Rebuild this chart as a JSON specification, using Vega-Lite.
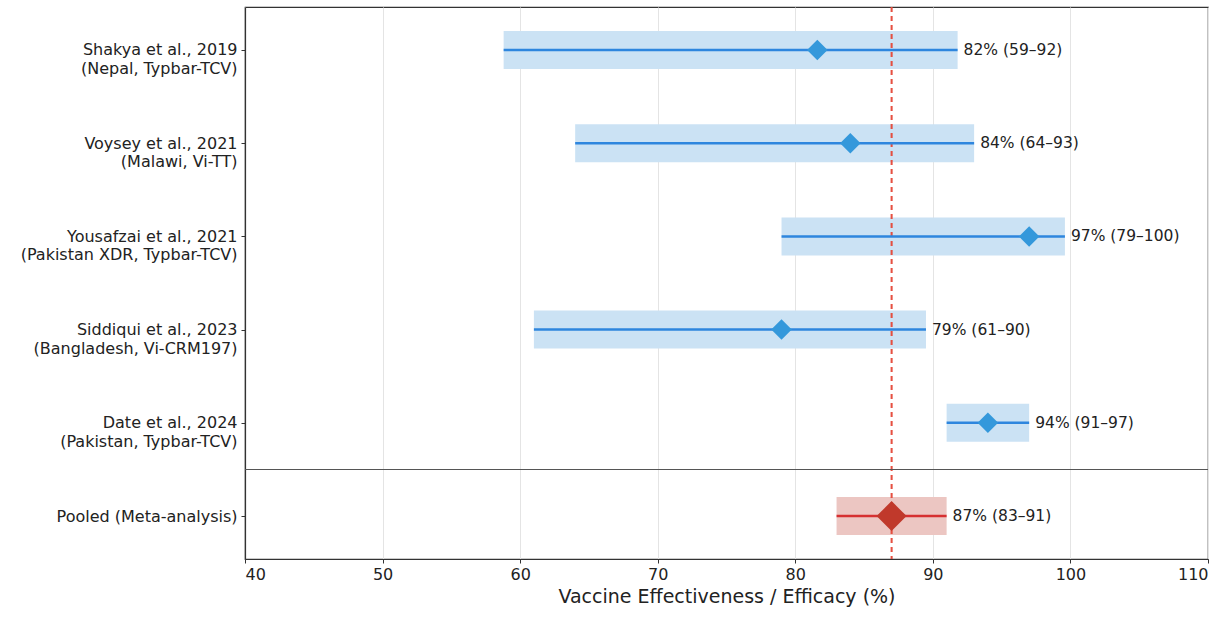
{
  "$schema": "https://vega.github.io/schema/vega-lite/v6.json",
  "width": 963,
  "height": 552,
  "autosize": {"type": "none"},
  "padding": {"left": 245, "top": 7, "right": 24, "bottom": 58},
  "background": "white",
  "config": {
    "font": "DejaVu Sans",
    "view": {"stroke": "#333333", "strokeWidth": 1.2},
    "axis": {"labelColor": "#222222", "titleColor": "#222222", "tickColor": "#333333", "domain": true, "domainColor": "#333333", "domainWidth": 1.2}
  },
  "data": {
    "values": [
      {"study": "Shakya et al., 2019|(Nepal, Typbar-TCV)", "est": 81.6, "lo": 58.8, "hi": 91.8, "label": "82% (59–92)", "group": "study"},
      {"study": "Voysey et al., 2021|(Malawi, Vi-TT)", "est": 84, "lo": 64, "hi": 93, "label": "84% (64–93)", "group": "study"},
      {"study": "Yousafzai et al., 2021|(Pakistan XDR, Typbar-TCV)", "est": 97, "lo": 79, "hi": 99.6, "label": "97% (79–100)", "group": "study"},
      {"study": "Siddiqui et al., 2023|(Bangladesh, Vi-CRM197)", "est": 79, "lo": 61, "hi": 89.5, "label": "79% (61–90)", "group": "study"},
      {"study": "Date et al., 2024|(Pakistan, Typbar-TCV)", "est": 94, "lo": 91, "hi": 97, "label": "94% (91–97)", "group": "study"},
      {"study": "Pooled (Meta-analysis)", "est": 87, "lo": 83, "hi": 91, "label": "87% (83–91)", "group": "pooled"}
    ]
  },
  "encoding": {
    "y": {
      "field": "study", "type": "nominal", "sort": null,
      "scale": {"type": "point", "padding": 0.46},
      "axis": {"title": null, "labelExpr": "split(datum.value, '|')", "labelFontSize": 16, "labelLineHeight": 18.5, "tickSize": 4, "labelPadding": 4, "labelLimit": 300, "labelBaseline": "middle"}
    }
  },
  "layer": [
    {
      "mark": {"type": "bar", "size": 38, "opacity": 1},
      "encoding": {
        "x": {"field": "lo", "type": "quantitative", "scale": {"domain": [40, 110], "nice": false, "zero": false},
          "axis": {"title": "Vaccine Effectiveness / Efficacy (%)", "values": [40, 50, 60, 70, 80, 90, 100, 110], "grid": true, "gridColor": "#e4e4e4", "gridWidth": 1, "labelFontSize": 16, "titleFontSize": 19, "titleFontWeight": "normal", "tickSize": 4, "labelPadding": 3, "titlePadding": 5}},
        "x2": {"field": "hi"},
        "color": {"field": "group", "type": "nominal", "scale": {"domain": ["study", "pooled"], "range": ["#cbe2f4", "#ecc6c2"]}, "legend": null}
      }
    },
    {
      "mark": {"type": "rule", "color": "#e74c3c", "opacity": 0.45, "strokeDash": [5, 4], "strokeWidth": 1.5},
      "encoding": {"x": {"datum": 87}, "y": null}
    },
    {
      "mark": {"type": "rule", "strokeWidth": 2.5},
      "encoding": {
        "x": {"field": "lo", "type": "quantitative"},
        "x2": {"field": "hi"},
        "color": {"field": "group", "type": "nominal", "scale": {"domain": ["study", "pooled"], "range": ["#2e86de", "#d63031"]}, "legend": null}
      }
    },
    {
      "mark": {"type": "point", "shape": "diamond", "filled": true, "opacity": 1},
      "encoding": {
        "x": {"field": "est", "type": "quantitative"},
        "size": {"field": "group", "type": "nominal", "scale": {"domain": ["study", "pooled"], "range": [420, 900]}, "legend": null},
        "color": {"field": "group", "type": "nominal", "scale": {"domain": ["study", "pooled"], "range": ["#3498db", "#c0392b"]}, "legend": null}
      }
    },
    {
      "mark": {"type": "text", "align": "left", "baseline": "middle", "dx": 6, "fontSize": 15.5, "color": "#222222"},
      "encoding": {
        "x": {"field": "hi", "type": "quantitative"},
        "text": {"field": "label"}
      }
    },
    {
      "mark": {"type": "rule", "color": "#555555", "strokeWidth": 1.1, "yOffset": 46.6},
      "encoding": {"y": {"datum": "Date et al., 2024|(Pakistan, Typbar-TCV)"}}
    }
  ],
  "resolve": {"scale": {"color": "independent"}}
}
